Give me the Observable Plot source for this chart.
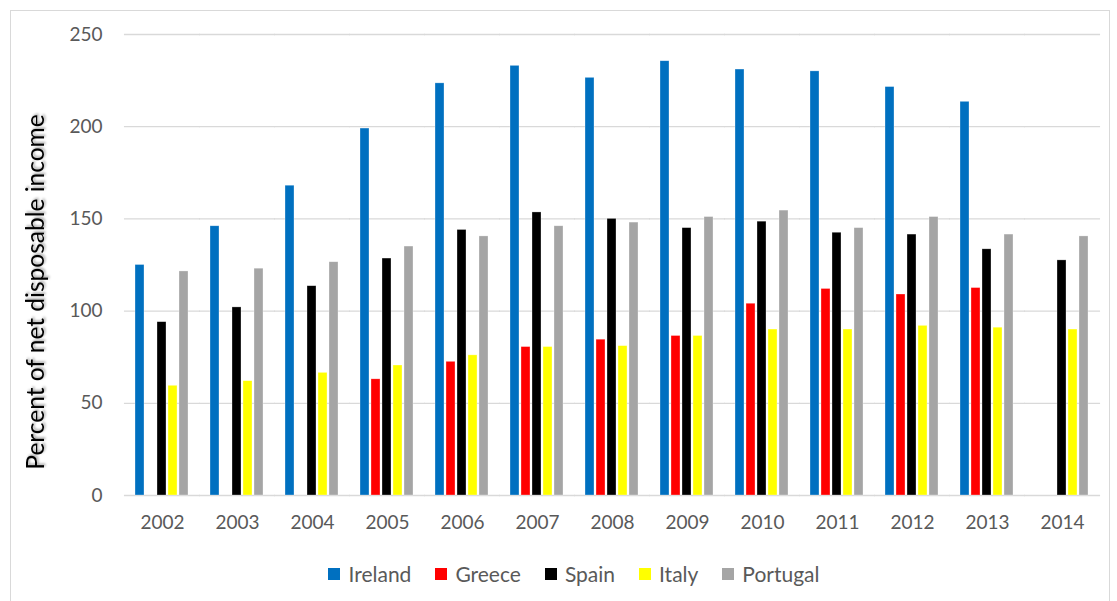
<!DOCTYPE html>
<html>
<head>
<meta charset="utf-8">
<script src="https://cdn.jsdelivr.net/npm/d3@7"></script>
<script src="https://cdn.jsdelivr.net/npm/@observablehq/plot@0.6"></script>
<style>
  html, body { margin: 0; padding: 0; background: #fff; }
  body { width: 1117px; height: 601px; overflow: hidden; position: relative; font-family: Lato, "Open Sans", sans-serif; }
  #frame { position: absolute; left: 10px; top: 10px; width: 1100px; height: 600px; border: 1px solid #d9d9d9; box-sizing: border-box; }
  #chart { position: absolute; left: 0; top: 0; }
  #legend { position: absolute; left: 0; width: 1117px; top: 561px; display: flex; justify-content: center; padding-left: 31px; box-sizing: border-box; gap: 24px; font-size: 21px; color: #595959; }
  #legend .item { display: flex; align-items: center; }
  #legend .sw { width: 12px; height: 12px; margin-right: 8px; }
</style>
</head>
<body>
<div id="frame"></div>
<div id="chart"></div>
<div id="legend"></div>
<script>
// Household debt as a share of net disposable income, by country and year
const years = ["2002","2003","2004","2005","2006","2007","2008","2009","2010","2011","2012","2013","2014"];
const countries = ["Ireland","Greece","Spain","Italy","Portugal"];
const colors = ["#0070c0","#ff0000","#000000","#ffff00","#a5a5a5"];

const ireland  = [125, 146, 168, 199, 223.5, 233, 226.5, 235.5, 231, 230, 221.5, 213.5, null];
const greece   = [null, null, null, 63, 72.5, 80.5, 84.5, 86.5, 104, 112, 109, 112.5, null];
const spain    = [94, 102, 113.5, 128.5, 144, 153.5, 150, 145, 148.5, 142.5, 141.5, 133.5, 127.5];
const italy    = [59.5, 62, 66.5, 70.5, 76, 80.5, 81, 86.5, 90, 90, 92, 91, 90];
const portugal = [121.5, 123, 126.5, 135, 140.5, 146, 148, 151, 154.5, 145, 151, 141.5, 140.5];

const yTicks = [0, 50, 100, 150, 200, 250];

const seriesValues = [ireland, greece, spain, italy, portugal];
const rows = [];
years.forEach((year, i) => {
  countries.forEach((country, j) => {
    const v = seriesValues[j][i];
    if (v != null) rows.push({year, country, value: v});
  });
});

// facet band geometry: gaps between year groups are filled by extending the rules
const plotWidth = 1117 - 121 - 13;
const fxPadInner = 0.25, fxPadOuter = 0.125;
const fxStep = plotWidth / (years.length - fxPadInner + 2 * fxPadOuter);
const gap = fxStep * fxPadInner / 2 + 0.6;

const plot = Plot.plot({
  width: 1117,
  height: 540,
  marginTop: 34,
  marginBottom: 45,
  marginLeft: 121,
  marginRight: 13,
  style: {fontFamily: "Lato, 'Open Sans', sans-serif", fontSize: "19px", color: "#595959", background: "transparent"},
  fx: {domain: years, paddingInner: fxPadInner, paddingOuter: fxPadOuter, label: null},
  x: {domain: countries, paddingInner: 0.15, paddingOuter: 0, axis: null},
  y: {domain: [0, 250], ticks: yTicks, label: null},
  color: {domain: countries, range: colors},
  marks: [
    Plot.ruleY(yTicks, {stroke: "#d9d9d9", strokeWidth: 1.3, insetLeft: -gap, insetRight: -gap}),
    Plot.axisY(yTicks, {anchor: "left", tickSize: 0, tickPadding: 32, fontSize: 19, fill: "#595959", label: null}),
    Plot.axisFx({anchor: "bottom", tickSize: 0, tickPadding: 20, fontSize: 19, fill: "#595959", label: null}),
    Plot.barY(rows, {fx: "year", x: "country", y: "value", fill: "country", stroke: "#ffffff", strokeOpacity: 0.5, strokeWidth: 0.6})
  ]
});
document.getElementById("chart").appendChild(plot);

// rotated y-axis title with a soft shadow
const svg = d3.select(plot);
const defs = svg.append("defs");
const f = defs.append("filter").attr("id", "tshadow").attr("x", "-20%").attr("y", "-50%").attr("width", "140%").attr("height", "200%");
f.append("feDropShadow").attr("dx", 1.5).attr("dy", 1.5).attr("stdDeviation", 1.2).attr("flood-color", "#000").attr("flood-opacity", 0.35);
svg.append("text")
  .attr("transform", "translate(44,292) rotate(-90)")
  .attr("text-anchor", "middle")
  .attr("font-family", "Lato, 'Open Sans', sans-serif")
  .attr("font-size", 24.5)
  .attr("fill", "#000")
  .attr("filter", "url(#tshadow)")
  .text("Percent of net disposable income");

// legend
const legend = d3.select("#legend");
countries.forEach((c, i) => {
  const item = legend.append("div").attr("class", "item");
  item.append("div").attr("class", "sw").style("background", colors[i]);
  item.append("span").text(c);
});
</script>
</body>
</html>
